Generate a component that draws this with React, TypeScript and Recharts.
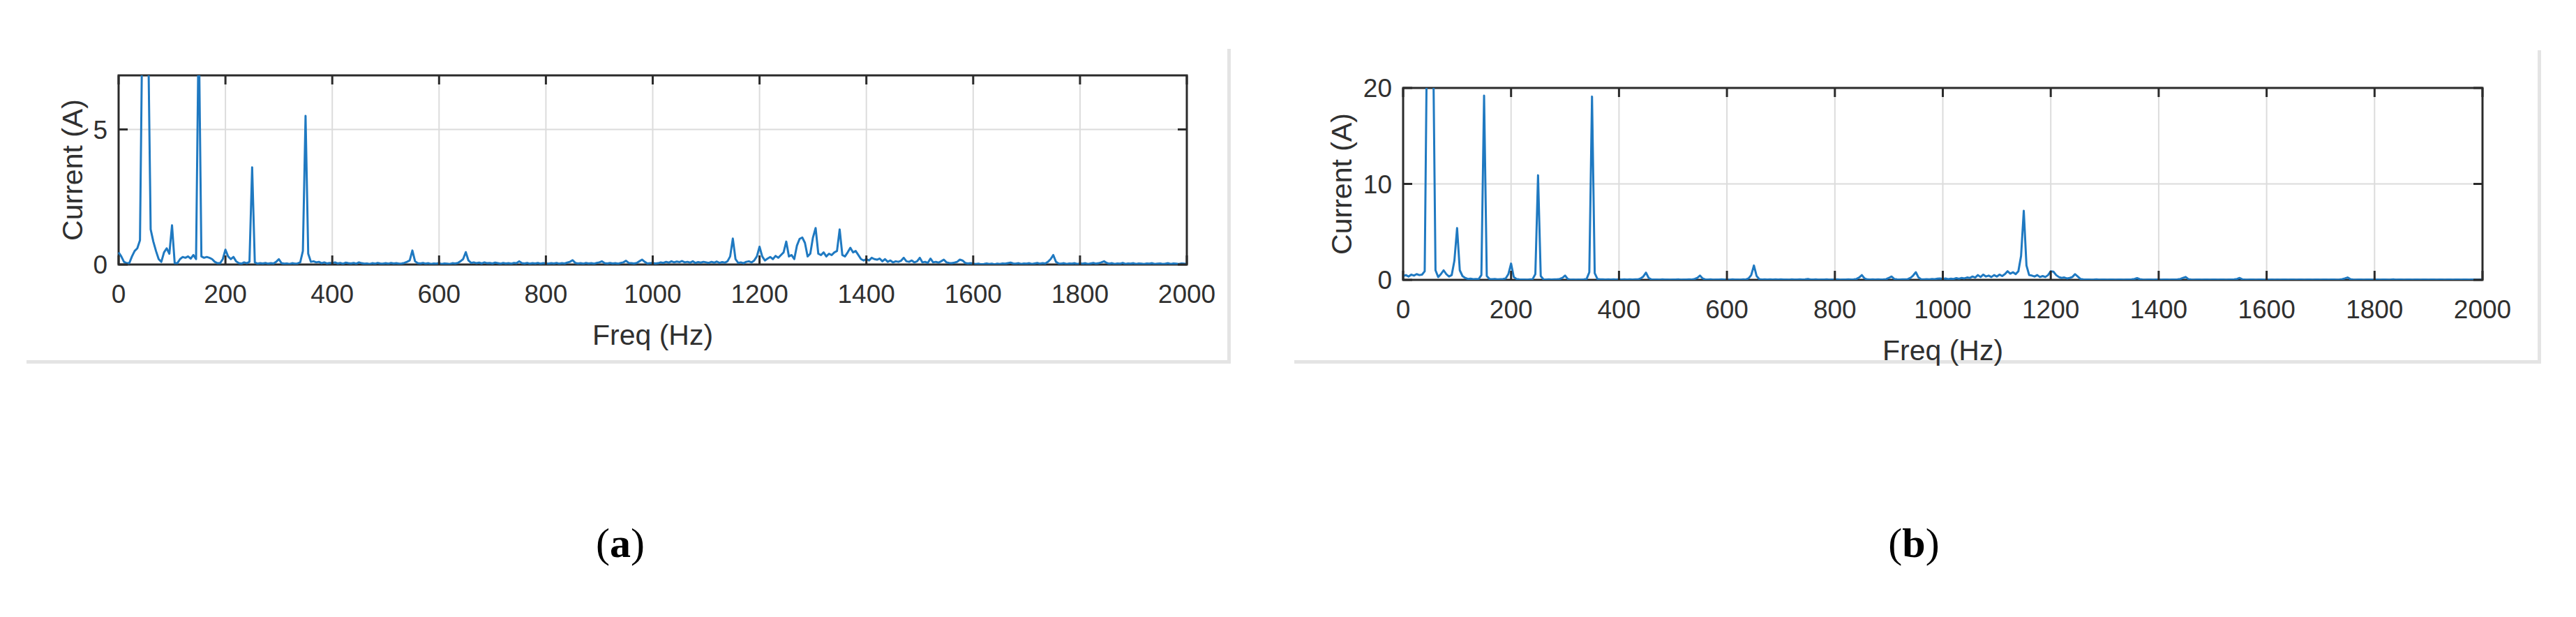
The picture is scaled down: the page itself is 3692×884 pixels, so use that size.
import React from 'react';
import { LineChart, Line, XAxis, YAxis, CartesianGrid, ReferenceArea } from 'recharts';

// FFT bins are 5 Hz wide, 0..2000 Hz (401 bins). One row = 100 Hz.
const BIN_HZ = 5;

// (a) current spectrum, A
const currentA = [
  0.45, 0.3, 0.1, 0.05, 0.05, 0.3, 0.5, 0.6, 0.9, 10, 40, 9, 1.3, 0.85, 0.5, 0.2, 0.1, 0.45, 0.6, 0.4,
  1.45, 0.05, 0.05, 0.2, 0.28, 0.25, 0.3, 0.22, 0.35, 0.2, 9, 0.3, 0.25, 0.28, 0.25, 0.2, 0.1, 0.05, 0.05, 0.2,
  0.55, 0.3, 0.2, 0.28, 0.12, 0.05, 0.03, 0.08, 0.05, 0.1, 3.6, 0.08, 0.03, 0.05, 0.04, 0.06, 0.03, 0.05, 0.04, 0.1,
  0.2, 0.05, 0.03, 0.04, 0.02, 0.05, 0.03, 0.04, 0.08, 0.5, 5.5, 0.4, 0.1, 0.12, 0.08, 0.1, 0.05, 0.08, 0.04, 0.06,
  0.05, 0.08, 0.04, 0.06, 0.03, 0.07, 0.05, 0.04, 0.06, 0.03, 0.08, 0.05, 0.03, 0.04, 0.02, 0.05, 0.03, 0.06, 0.04, 0.03,
  0.05, 0.03, 0.06, 0.04, 0.05, 0.03, 0.04, 0.06, 0.1, 0.15, 0.52, 0.12, 0.05, 0.04, 0.06, 0.03, 0.05, 0.02, 0.04, 0.03,
  0.05, 0.02, 0.04, 0.03, 0.02, 0.05, 0.04, 0.06, 0.12, 0.2, 0.46, 0.15, 0.06, 0.08, 0.05, 0.07, 0.04, 0.08, 0.05, 0.06,
  0.04, 0.07, 0.05, 0.03, 0.06, 0.04, 0.05, 0.03, 0.06, 0.05, 0.12, 0.05, 0.04, 0.06, 0.03, 0.05, 0.04, 0.06, 0.03, 0.05,
  0.04, 0.03, 0.05, 0.04, 0.06, 0.03, 0.05, 0.04, 0.07, 0.1, 0.16, 0.06, 0.04, 0.05, 0.03, 0.06, 0.04, 0.05, 0.03, 0.06,
  0.08, 0.12, 0.05, 0.04, 0.06, 0.04, 0.05, 0.03, 0.06, 0.08, 0.14, 0.06, 0.05, 0.04, 0.06, 0.12, 0.18, 0.1, 0.04, 0.05,
  0.06, 0.04, 0.05, 0.08, 0.06, 0.1, 0.07, 0.12, 0.08, 0.11, 0.09, 0.13, 0.08, 0.1, 0.07, 0.12, 0.06, 0.09, 0.07, 0.1,
  0.08, 0.06, 0.1, 0.07, 0.11, 0.06, 0.09, 0.07, 0.12, 0.3, 0.96, 0.2, 0.06, 0.08, 0.05, 0.1, 0.12, 0.08, 0.15, 0.3,
  0.66, 0.3, 0.15, 0.22, 0.28, 0.2, 0.32, 0.25, 0.35, 0.45, 0.85, 0.3, 0.35, 0.2, 0.7, 0.95, 1.0, 0.8, 0.3, 0.4,
  1.0, 1.35, 0.4, 0.35, 0.45, 0.3, 0.4, 0.35, 0.45, 0.5, 1.3, 0.35, 0.3, 0.45, 0.62, 0.45, 0.5, 0.35, 0.2, 0.15,
  0.2, 0.15, 0.25, 0.2, 0.18, 0.22, 0.12, 0.2, 0.1, 0.15, 0.08, 0.12, 0.1, 0.14, 0.25, 0.12, 0.1, 0.15, 0.08, 0.12,
  0.25, 0.08, 0.1, 0.06, 0.22, 0.08, 0.1, 0.07, 0.12, 0.18, 0.08, 0.06, 0.05, 0.07, 0.1, 0.18, 0.15, 0.06, 0.04, 0.05,
  0.03, 0.02, 0.03, 0.01, 0.02, 0.04, 0.02, 0.03, 0.01, 0.03, 0.02, 0.04, 0.03, 0.05, 0.07, 0.04, 0.03, 0.05, 0.02, 0.04,
  0.03, 0.05, 0.02, 0.04, 0.06, 0.03, 0.05, 0.04, 0.1, 0.2, 0.35, 0.1, 0.04, 0.03, 0.05, 0.02, 0.04, 0.03, 0.05, 0.02,
  0.04, 0.03, 0.05, 0.02, 0.04, 0.06, 0.03, 0.05, 0.08, 0.12, 0.06, 0.03, 0.05, 0.02, 0.04, 0.03, 0.06, 0.02, 0.04, 0.03,
  0.05, 0.02, 0.04, 0.03, 0.02, 0.04, 0.03, 0.05, 0.02, 0.03, 0.04, 0.02, 0.03, 0.05, 0.02, 0.04, 0.03, 0.02, 0.04, 0.03,
  0.02,
];

// (b) current spectrum, A
const currentB = [
  0.4, 0.5, 0.35, 0.55, 0.45, 0.6, 0.5, 0.55, 0.9, 30, 60, 28, 1.0, 0.3, 0.6, 1.0, 0.6, 0.35, 0.5, 2.0,
  5.4, 1.0, 0.4, 0.2, 0.1, 0.12, 0.08, 0.1, 0.08, 0.5, 19.2, 0.4, 0.1, 0.08, 0.1, 0.06, 0.08, 0.1, 0.15, 0.6,
  1.7, 0.3, 0.1, 0.05, 0.03, 0.04, 0.02, 0.05, 0.08, 0.6, 10.9, 0.4, 0.05, 0.03, 0.05, 0.04, 0.06, 0.05, 0.1, 0.2,
  0.45, 0.1, 0.02, 0.04, 0.01, 0.03, 0.02, 0.05, 0.1, 0.8, 19.1, 0.7, 0.1, 0.05, 0.06, 0.04, 0.05, 0.03, 0.06, 0.04,
  0.05, 0.04, 0.06, 0.03, 0.05, 0.04, 0.06, 0.05, 0.15, 0.35, 0.75, 0.2, 0.05, 0.03, 0.04, 0.02, 0.05, 0.03, 0.04, 0.02,
  0.04, 0.03, 0.05, 0.02, 0.04, 0.03, 0.05, 0.04, 0.1, 0.2, 0.45, 0.15, 0.04, 0.03, 0.05, 0.02, 0.04, 0.03, 0.05, 0.03,
  0.04, 0.02, 0.05, 0.03, 0.04, 0.02, 0.05, 0.04, 0.15, 0.5, 1.5, 0.4, 0.08, 0.04, 0.05, 0.03, 0.05, 0.04, 0.06, 0.03,
  0.05, 0.03, 0.04, 0.02, 0.05, 0.03, 0.04, 0.06, 0.03, 0.05, 0.1, 0.04, 0.03, 0.05, 0.02, 0.04, 0.03, 0.05, 0.02, 0.04,
  0.03, 0.05, 0.02, 0.04, 0.03, 0.05, 0.04, 0.06, 0.1, 0.25, 0.5, 0.15, 0.05, 0.03, 0.05, 0.04, 0.06, 0.03, 0.05, 0.08,
  0.2, 0.35, 0.1, 0.05, 0.04, 0.06, 0.05, 0.08, 0.2, 0.45, 0.8, 0.25, 0.06, 0.05, 0.08, 0.06, 0.1, 0.08, 0.12, 0.15,
  0.1, 0.15, 0.08, 0.12, 0.1, 0.18, 0.12, 0.2, 0.15, 0.25, 0.2, 0.35, 0.25, 0.5, 0.3, 0.55, 0.35, 0.45, 0.3, 0.5,
  0.35, 0.55, 0.4, 0.6, 0.9, 0.65, 0.8, 0.6, 0.9, 2.5, 7.2, 1.5, 0.5, 0.45, 0.35, 0.5, 0.3, 0.4, 0.3, 0.5,
  0.9, 0.85, 0.5, 0.3, 0.2, 0.25, 0.15, 0.2, 0.3, 0.6, 0.35, 0.1, 0.05, 0.03, 0.04, 0.02, 0.03, 0.05, 0.02, 0.04,
  0.03, 0.02, 0.04, 0.03, 0.02, 0.04, 0.03, 0.02, 0.04, 0.03, 0.05, 0.1, 0.18, 0.08, 0.03, 0.02, 0.04, 0.03, 0.02, 0.04,
  0.03, 0.02, 0.04, 0.03, 0.02, 0.04, 0.03, 0.05, 0.1, 0.2, 0.3, 0.08, 0.03, 0.02, 0.04, 0.03, 0.02, 0.04, 0.03, 0.02,
  0.04, 0.03, 0.02, 0.04, 0.03, 0.02, 0.04, 0.03, 0.05, 0.1, 0.2, 0.06, 0.03, 0.02, 0.04, 0.03, 0.02, 0.04, 0.03, 0.02,
  0.03, 0.02, 0.04, 0.02, 0.03, 0.02, 0.04, 0.03, 0.02, 0.04, 0.03, 0.02, 0.04, 0.03, 0.02, 0.04, 0.03, 0.02, 0.04, 0.03,
  0.02, 0.04, 0.03, 0.02, 0.04, 0.03, 0.02, 0.04, 0.08, 0.15, 0.25, 0.08, 0.03, 0.02, 0.04, 0.03, 0.02, 0.04, 0.03, 0.02,
  0.03, 0.04, 0.02, 0.03, 0.04, 0.02, 0.03, 0.05, 0.02, 0.03, 0.04, 0.02, 0.03, 0.04, 0.02, 0.03, 0.04, 0.02, 0.03, 0.04,
  0.02, 0.03, 0.04, 0.02, 0.03, 0.04, 0.02, 0.03, 0.04, 0.02, 0.03, 0.04, 0.02, 0.03, 0.04, 0.02, 0.03, 0.04, 0.02, 0.03,
  0.03,
];

const freqTicks = [0, 200, 400, 600, 800, 1000, 1200, 1400, 1600, 1800, 2000];
const currentTicksA = [0, 5];
const currentTicksB = [0, 10, 20];

const LINE_COLOR = '#1f79c1';
const BOX_COLOR = '#2b2b2b';
const TEXT_COLOR = '#303030';
const FONT = '"Liberation Sans", Arial, Helvetica, sans-serif';

// chart layout around the plot box
const AXIS_W = 170;
const AXIS_H = 140;
const PAD_TOP = 60;
const PAD_RIGHT = 60;
const TICK_LEN = 13;
const X_LABEL_GAP = 29;
const Y_LABEL_GAP = 16;

const toRows = (values: number[]) => values.map((v, i) => ({ freq: i * BIN_HZ, current: v }));

interface PanelProps {
  values: number[];
  yMax: number;
  yTicks: number[];
  plotLeft: number;
  plotTop: number;
  plotW: number;
  plotH: number;
  yTitleX: number;
}

function SpectrumPanel({ values, yMax, yTicks, plotLeft, plotTop, plotW, plotH, yTitleX }: PanelProps) {
  const data = toRows(values);

  // tick labels plus MATLAB-style inner tick marks (bottom and top)
  const XTick = (props: any) => {
    const { x, y, payload } = props;
    const axisY = y - X_LABEL_GAP;
    return (
      <g>
        <line x1={x} x2={x} y1={axisY} y2={axisY - TICK_LEN} stroke={BOX_COLOR} strokeWidth={3} />
        <line x1={x} x2={x} y1={axisY - plotH} y2={axisY - plotH + TICK_LEN} stroke={BOX_COLOR} strokeWidth={3} />
        <text x={x} y={y} dy="0.71em" textAnchor="middle" fill={TEXT_COLOR} fontSize={37} fontFamily={FONT}>
          {payload.value}
        </text>
      </g>
    );
  };

  const YTick = (props: any) => {
    const { x, y, payload } = props;
    const axisX = x + Y_LABEL_GAP;
    return (
      <g>
        <line x1={axisX} x2={axisX + TICK_LEN} y1={y} y2={y} stroke={BOX_COLOR} strokeWidth={3} />
        <line x1={axisX + plotW} x2={axisX + plotW - TICK_LEN} y1={y} y2={y} stroke={BOX_COLOR} strokeWidth={3} />
        <text x={x} y={y} dy="0.36em" textAnchor="end" fill={TEXT_COLOR} fontSize={37} fontFamily={FONT}>
          {payload.value}
        </text>
      </g>
    );
  };

  return (
    <div style={{ position: 'absolute', left: plotLeft - AXIS_W, top: plotTop - PAD_TOP }}>
      <LineChart
        width={plotW + AXIS_W + PAD_RIGHT}
        height={plotH + PAD_TOP + AXIS_H}
        data={data}
        margin={{ top: PAD_TOP, right: PAD_RIGHT, bottom: 0, left: 0 }}
      >
        <CartesianGrid stroke="#dcdcdc" strokeWidth={2} />
        <XAxis
          type="number"
          dataKey="freq"
          domain={[0, 2000]}
          ticks={freqTicks}
          interval={0}
          height={AXIS_H}
          axisLine={false}
          tickLine={false}
          tickSize={0}
          tickMargin={X_LABEL_GAP}
          tick={XTick}
          label={{ value: 'Freq (Hz)', position: 'insideTop', offset: 86, fill: TEXT_COLOR, fontSize: 41, fontFamily: FONT }}
        />
        <YAxis
          type="number"
          domain={[0, yMax]}
          allowDataOverflow
          ticks={yTicks}
          interval={0}
          width={AXIS_W}
          axisLine={false}
          tickLine={false}
          tickSize={0}
          tickMargin={Y_LABEL_GAP}
          tick={YTick}
          label={{
            value: 'Current (A)',
            angle: -90,
            position: 'insideLeft',
            offset: yTitleX,
            fill: TEXT_COLOR,
            fontSize: 41,
            fontFamily: FONT,
            style: { textAnchor: 'middle' },
          }}
        />
        <ReferenceArea x1={0} x2={2000} y1={0} y2={yMax} fill="none" stroke={BOX_COLOR} strokeWidth={3} />
        <Line
          type="linear"
          dataKey="current"
          stroke={LINE_COLOR}
          strokeWidth={3}
          strokeLinejoin="round"
          dot={false}
          activeDot={false}
          isAnimationActive={false}
        />
      </LineChart>
    </div>
  );
}

const frameLine = (left: number, top: number, width: number, height: number) => (
  <div style={{ position: 'absolute', left, top, width, height, background: '#e4e4e4' }} />
);

const captionStyle = (center: number): React.CSSProperties => ({
  position: 'absolute',
  left: center - 100,
  top: 746,
  width: 200,
  textAlign: 'center',
  fontFamily: '"Liberation Serif", "Times New Roman", serif',
  fontSize: 60,
  lineHeight: '64px',
  color: '#000',
});

export default function App() {
  return (
    <div style={{ position: 'absolute', left: 0, top: 0, width: 3692, height: 884, background: '#fff', overflow: 'hidden' }}>
      {frameLine(38, 516, 1726, 5)}
      {frameLine(1759, 70, 5, 451)}
      {frameLine(1855, 516, 1787, 5)}
      {frameLine(3637, 72, 5, 449)}

      <SpectrumPanel values={currentA} yMax={7} yTicks={currentTicksA} plotLeft={170} plotTop={108} plotW={1531} plotH={271} yTitleX={103} />
      <SpectrumPanel values={currentB} yMax={20} yTicks={currentTicksB} plotLeft={2011} plotTop={126} plotW={1547} plotH={275} yTitleX={81} />

      <div style={captionStyle(889)}>
        (<b>a</b>)
      </div>
      <div style={captionStyle(2743)}>
        (<b>b</b>)
      </div>
    </div>
  );
}
